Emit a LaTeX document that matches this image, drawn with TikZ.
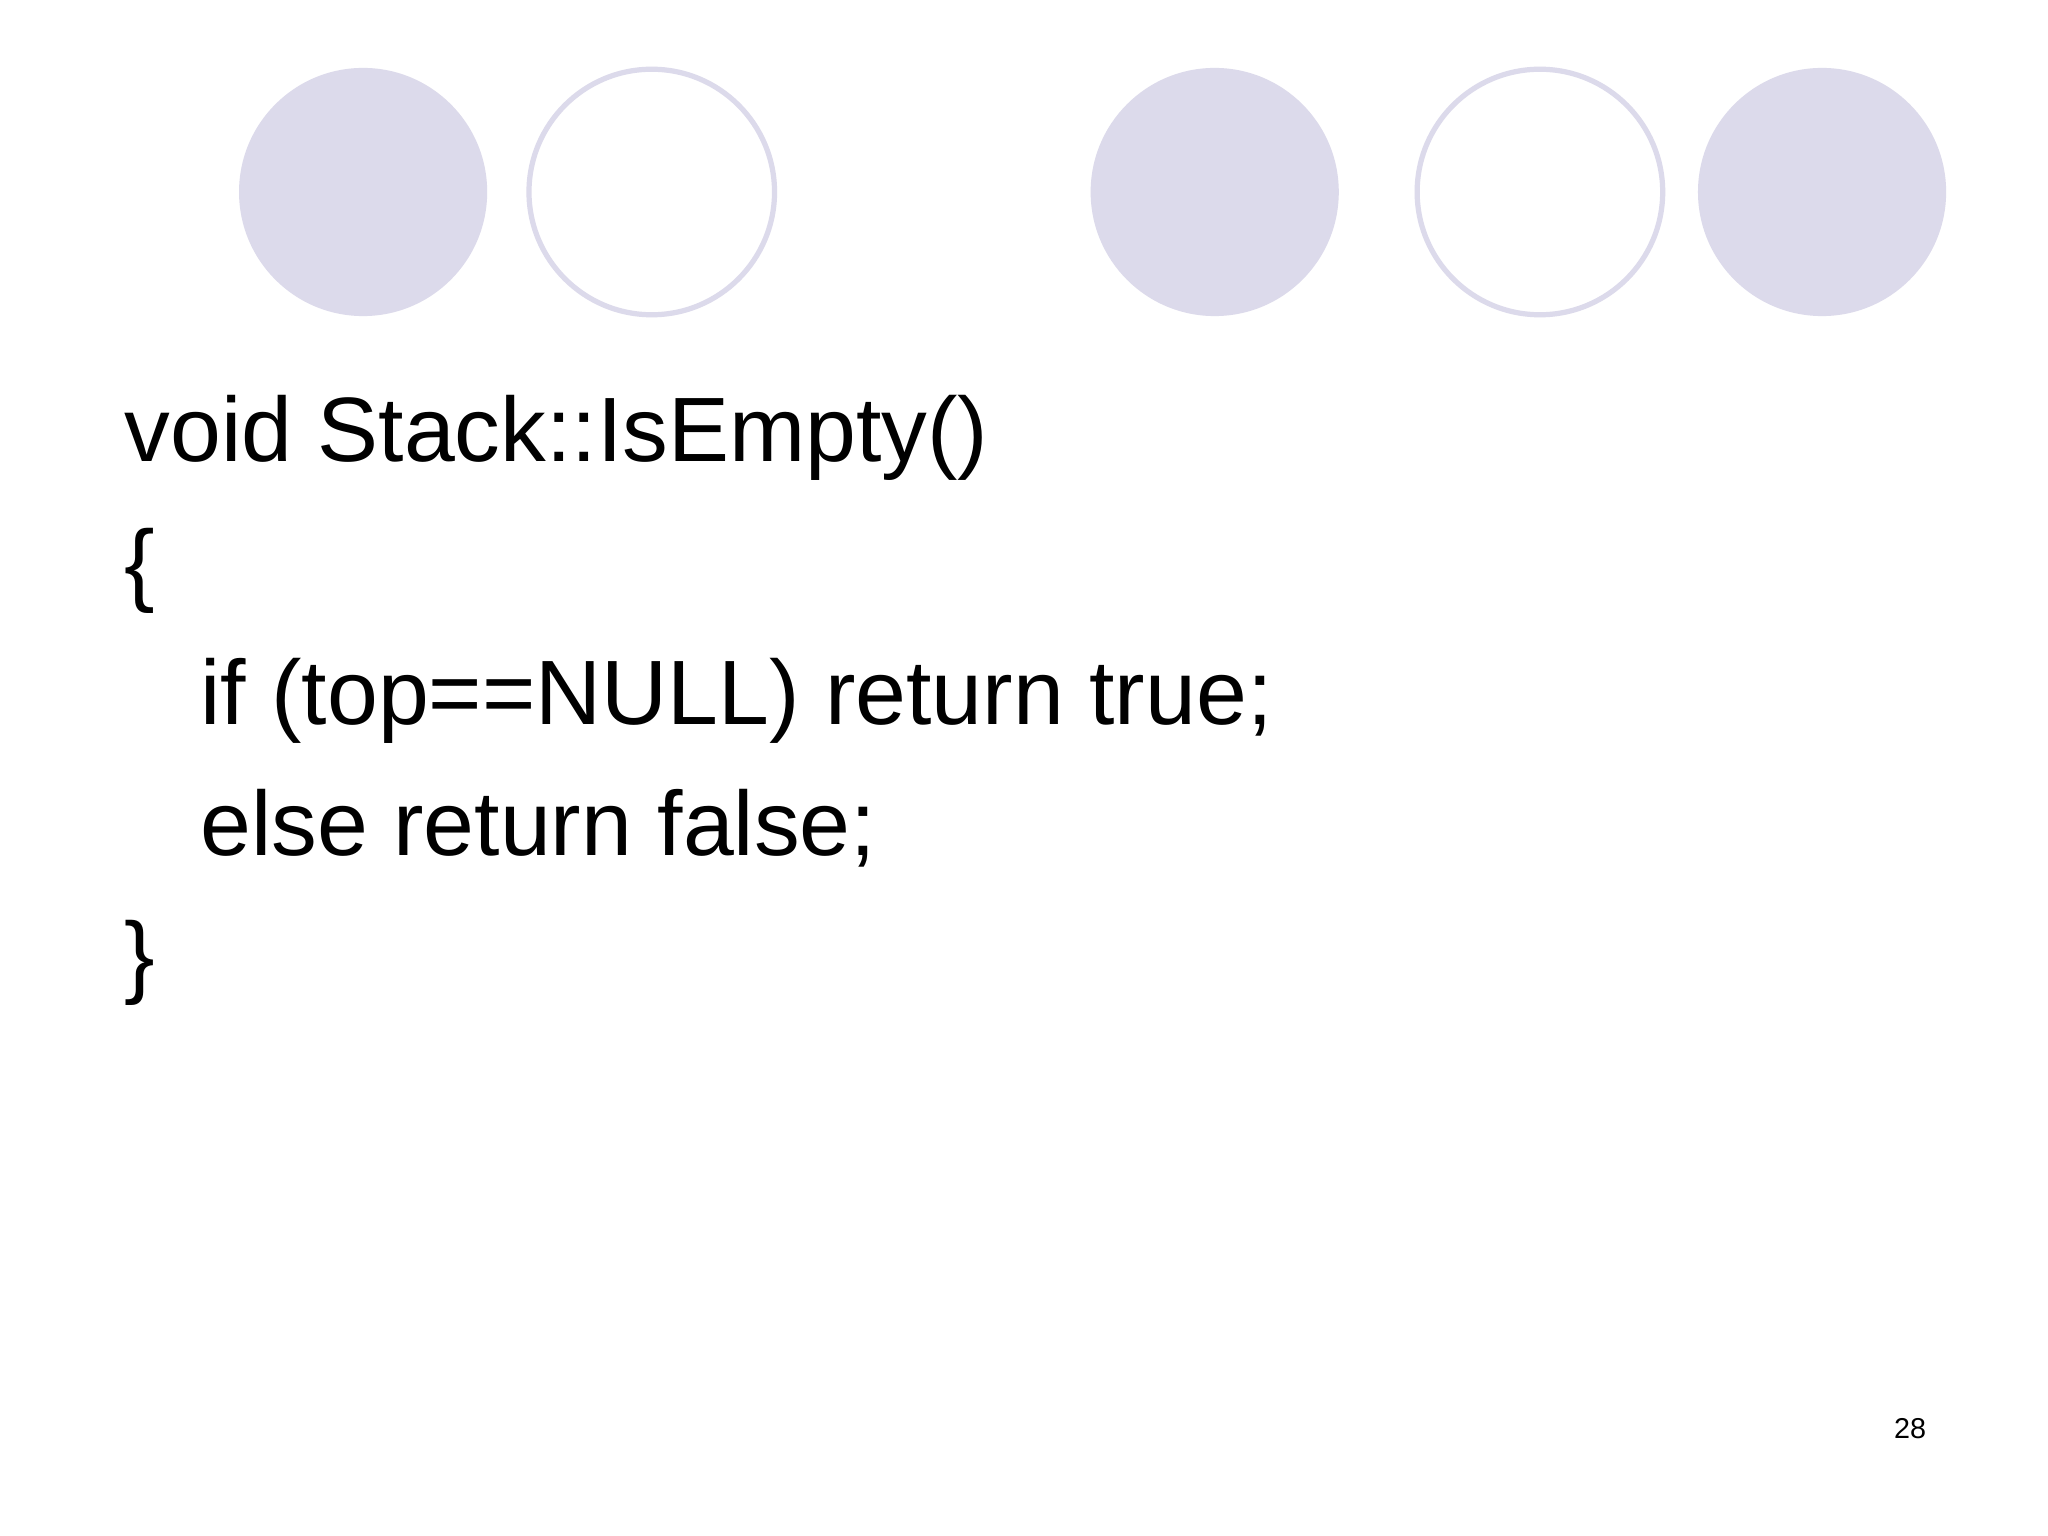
\documentclass[tikz,border=0pt]{standalone}
\usepackage{fontspec}
\setmainfont{Liberation Sans}
\definecolor{dot}{HTML}{DCDAEB}
\tikzset{fillc/.style={fill=dot,draw=none},ringc/.style={draw=dot,line width=2pt,fill=white},
code/.style={anchor=base west,inner sep=0pt,font=\fontsize{35}{42}\selectfont}}
\begin{document}
\begin{tikzpicture}[x=0.5pt,y=-0.5pt]
\useasboundingbox[fill=white] (0,0) rectangle (1568,1176);
\fill[fillc] (278,147) circle (95);
\draw[ringc] (499,147) circle (94);
\fill[fillc] (930,147) circle (95);
\draw[ringc] (1179,147) circle (94);
\fill[fillc] (1395,147) circle (95);
\node[code] (l1) at (95,353) {void Stack::IsEmpty()};
\node[code] (l2) at (95,455) {\{};
\node[code] (l3) at (153,555) {if (top==NULL) return true;};
\node[code] (l4) at (153,655) {else return false;};
\node[code] (l5) at (95,755) {\}};
\node[anchor=base east,inner sep=0pt,font=\fontsize{11}{13}\selectfont] (pg) at (1475,1101) {28};
\end{tikzpicture}
\end{document}
